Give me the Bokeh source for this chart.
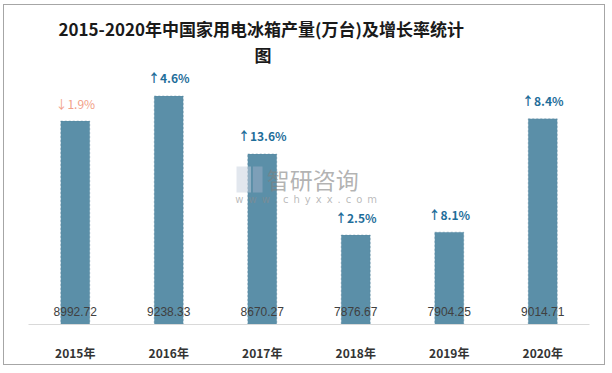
from bokeh.plotting import figure
from bokeh.models import ColumnDataSource, FactorRange, Range1d, Title, Label
from bokeh.core.properties import value
from bokeh.embed import file_html
from bokeh.resources import INLINE

# ---- data ----
year_labels = ["2015年", "2016年", "2017年", "2018年", "2019年", "2020年"]
production = [8992.72, 9238.33, 8670.27, 7876.67, 7904.25, 9014.71]
growth = [-1.9, 4.6, 13.6, 2.5, 8.1, 8.4]
title_line1 = "2015-2020年中国家用电冰箱产量(万台)及增长率统计"
title_line2 = "图"
y_min, y_max = 7000, 9537

UP_COLOR = "#1f6e9a"
DOWN_COLOR = "#f2a088"

growth_text = [("↑" if g >= 0 else "↓") + f"{abs(g)}%" for g in growth]
growth_color = [UP_COLOR if g >= 0 else DOWN_COLOR for g in growth]
growth_style = ["bold" if g >= 0 else "normal" for g in growth]

src = ColumnDataSource(dict(
    x=year_labels,
    top=production,
    val_text=[f"{v:.2f}" for v in production],
    g_text=growth_text,
    g_color=growth_color,
    g_style=growth_style,
))

p = figure(
    width=602, height=361,
    x_range=FactorRange(*year_labels, range_padding=0),
    y_range=Range1d(y_min, y_max),
    output_backend="svg", toolbar_location=None,
    title=title_line1,
    min_border_left=24, min_border_right=17, min_border_bottom=42, min_border_top=60,
    background_fill_color="white", border_fill_color="white",
    stylesheets=[":host { border: 1px solid #a6a6a6; margin-left: 3px; margin-top: 4px; }"],
)

p.title.align = "left"
p.title.offset = 30
p.title.text_font = "Noto Sans CJK SC"
p.title.text_font_size = "17px"
p.title.text_font_style = "bold"
p.title.text_color = "#1a1a1a"
p.title.standoff = 0
t2 = Title(text=title_line2, align="left", offset=226, text_font="Noto Sans CJK SC",
           text_font_size="17px", text_font_style="bold", text_color="#1a1a1a", standoff=-2)
p.add_layout(t2, "above")

p.outline_line_color = None
p.xgrid.grid_line_color = None
p.ygrid.grid_line_color = None
p.yaxis.visible = False

ax = p.xaxis[0]
ax.axis_line_color = "#d9d9d9"
ax.axis_line_width = 1
ax.major_tick_line_color = None
ax.minor_tick_line_color = None
ax.major_label_text_font = "Noto Sans CJK SC"
ax.major_label_text_font_style = "bold"
ax.major_label_text_font_size = "12px"
ax.major_label_text_color = "#333333"
ax.major_label_standoff = 13

p.vbar(x="x", top="top", bottom=y_min, width=0.31, source=src,
       fill_color="#5b8fa8", line_color="#4d7d95", line_dash="2 2", line_width=1, line_alpha=0.4)

# watermark (decorative)
p.quad(left=[2.225, 2.40], right=[2.38, 2.503], top=[8548, 8548], bottom=[8293, 8293],
       fill_color=["#c5d0de", "#9fb0c8"], fill_alpha=0.5, line_color=None)
p.add_layout(Label(x=3.04, y=8430, text="智研咨询", text_align="center", text_baseline="middle",
                   text_font="Noto Sans CJK SC", text_font_size="23px",
                   text_color="#808080", text_alpha=0.6))
sp = "\u2002"
p.add_layout(Label(x=2.97, y=8225, text=sp.join("www.chyxx.com"), text_align="center",
                   text_baseline="middle", text_font="DejaVu Sans", text_font_size="10px",
                   text_color="#8c8c8c", text_alpha=0.6))

p.text(x="x", y=y_min, text="val_text", source=src, y_offset=-13,
       text_align="center", text_baseline="middle",
       text_font=value("Liberation Sans"), text_font_size="12px", text_color="#404040")

p.text(x="x", y="top", text="g_text", source=src, y_offset=-18,
       text_align="center", text_baseline="middle",
       text_font=value("Noto Sans CJK SC"), text_font_size="12px",
       text_color="g_color", text_font_style="g_style")

open("out.html", "w").write(file_html(p, INLINE))
